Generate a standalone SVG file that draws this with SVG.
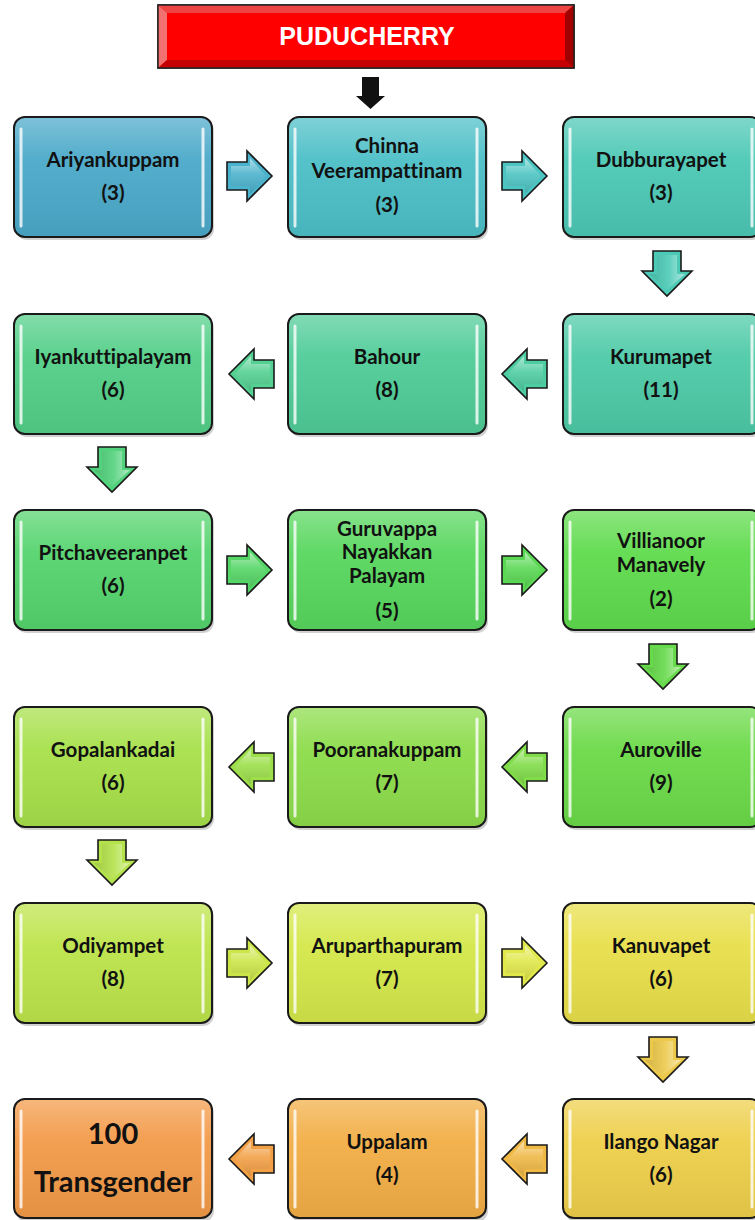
<svg xmlns="http://www.w3.org/2000/svg" xmlns:xlink="http://www.w3.org/1999/xlink" width="755" height="1220" viewBox="0 0 755 1220">
<style>
.box{stroke:#1a1a1a;stroke-width:2}
.shadow{fill:#000;opacity:0.18}
.gloss{fill:url(#boxGloss)}
.hl{stroke:#ffffff;stroke-width:3;stroke-linecap:round;opacity:0.8}
.t{font-family:Lato,"Open Sans","Liberation Sans",sans-serif;font-weight:bold;font-size:20.5px;fill:#111;text-anchor:middle;font-variant-ligatures:none;font-feature-settings:"liga" 0}
.big{font-size:29px}
.arr{stroke:#1a1a1a;stroke-width:1.6;stroke-linejoin:miter}
.agloss{fill:url(#arrGloss);stroke:none}
.title{font-family:"Liberation Sans",Arial,sans-serif;font-weight:bold;font-size:25px;fill:#fff;text-anchor:middle}
</style>
<defs>
<linearGradient id="boxGloss" x1="0" y1="0" x2="0" y2="1">
<stop offset="0" stop-color="#fff" stop-opacity="0.28"/>
<stop offset="0.35" stop-color="#fff" stop-opacity="0.05"/>
<stop offset="1" stop-color="#000" stop-opacity="0.06"/>
</linearGradient>
<linearGradient id="arrGloss" x1="0" y1="0" x2="0" y2="1">
<stop offset="0" stop-color="#fff" stop-opacity="0.55"/>
<stop offset="0.45" stop-color="#fff" stop-opacity="0.1"/>
<stop offset="1" stop-color="#000" stop-opacity="0.12"/>
</linearGradient>
<path id="ra" d="M0,-14 H20 V-25 L45,0 L20,25 V14 H0 Z"/>
<path id="raHi" d="M4,-10 H23 V-18 L39,0 L23,18 V10 H4 Z"/>
</defs>
<rect width="755" height="1220" fill="#ffffff"/>

<g id="header">
<rect x="158" y="5" width="416" height="63" fill="#ff0000" stroke="#222" stroke-width="1.5"/>
<polygon points="158,5 574,5 565,13 167,13" fill="#ee4444"/>
<polygon points="158,5 167,13 167,60 158,68" fill="#f27070"/>
<polygon points="574,5 574,68 565,60 565,13" fill="#a00000"/>
<polygon points="158,68 167,60 565,60 574,68" fill="#c40000"/>
<rect x="158" y="5" width="416" height="63" fill="none" stroke="#222" stroke-width="1.5"/>
<text class="title" x="367" y="45">PUDUCHERRY</text>
</g>

<g id="connectors">
<polygon points="362,77 379,77 379,96 385,96 370.5,109 356,96 362,96" fill="#111"/>
<g transform="translate(227,176)" fill="#4ab2cc"><use href="#ra" class="arr"/><use href="#raHi" class="agloss"/></g>
<g transform="translate(502,176)" fill="#4cc4c2"><use href="#ra" class="arr"/><use href="#raHi" class="agloss"/></g>
<g transform="translate(667,251) rotate(90)" fill="#4ccab6"><use href="#ra" class="arr"/><use href="#raHi" class="agloss"/></g>
<g transform="translate(547,374) scale(-1,1)" fill="#4ecca2"><use href="#ra" class="arr"/><use href="#raHi" class="agloss"/></g>
<g transform="translate(274,374) scale(-1,1)" fill="#54d092"><use href="#ra" class="arr"/><use href="#raHi" class="agloss"/></g>
<g transform="translate(112,447) rotate(90)" fill="#52d27c"><use href="#ra" class="arr"/><use href="#raHi" class="agloss"/></g>
<g transform="translate(227,570)" fill="#55d666"><use href="#ra" class="arr"/><use href="#raHi" class="agloss"/></g>
<g transform="translate(502,570)" fill="#5ad854"><use href="#ra" class="arr"/><use href="#raHi" class="agloss"/></g>
<g transform="translate(663,644) rotate(90)" fill="#66da4a"><use href="#ra" class="arr"/><use href="#raHi" class="agloss"/></g>
<g transform="translate(547,767) scale(-1,1)" fill="#80dc48"><use href="#ra" class="arr"/><use href="#raHi" class="agloss"/></g>
<g transform="translate(274,767) scale(-1,1)" fill="#9cdf4a"><use href="#ra" class="arr"/><use href="#raHi" class="agloss"/></g>
<g transform="translate(112,840) rotate(90)" fill="#b4e24a"><use href="#ra" class="arr"/><use href="#raHi" class="agloss"/></g>
<g transform="translate(227,963)" fill="#cce64a"><use href="#ra" class="arr"/><use href="#raHi" class="agloss"/></g>
<g transform="translate(502,963)" fill="#e0e84a"><use href="#ra" class="arr"/><use href="#raHi" class="agloss"/></g>
<g transform="translate(663,1037) rotate(90)" fill="#ecc94a"><use href="#ra" class="arr"/><use href="#raHi" class="agloss"/></g>
<g transform="translate(547,1159) scale(-1,1)" fill="#f0b845"><use href="#ra" class="arr"/><use href="#raHi" class="agloss"/></g>
<g transform="translate(274,1159) scale(-1,1)" fill="#f2a046"><use href="#ra" class="arr"/><use href="#raHi" class="agloss"/></g>
</g>

<!-- Row 1 -->
<g id="ariyankuppam">
<rect class="shadow" x="16" y="120" width="198" height="120" rx="11"/>
<rect class="box" x="14" y="117" width="198" height="120" rx="11" fill="#4aa9c9"/>
<rect class="gloss" x="15" y="118" width="196" height="118" rx="10"/>
<line class="hl" x1="21" y1="129" x2="21" y2="226"/><line class="hl" x1="203" y1="129" x2="203" y2="226"/>
<text class="t" x="113" y="167">Ariyankuppam</text><text class="t" x="113" y="200">(3)</text>
</g>
<g id="chinna-veerampattinam">
<rect class="shadow" x="290" y="120" width="198" height="120" rx="11"/>
<rect class="box" x="288" y="117" width="198" height="120" rx="11" fill="#4cbfc7"/>
<rect class="gloss" x="289" y="118" width="196" height="118" rx="10"/>
<line class="hl" x1="295" y1="129" x2="295" y2="226"/><line class="hl" x1="477" y1="129" x2="477" y2="226"/>
<text class="t" x="387" y="153">Chinna</text><text class="t" x="387" y="178">Veerampattinam</text><text class="t" x="387" y="212">(3)</text>
</g>
<g id="dubburayapet">
<rect class="shadow" x="565" y="120" width="198" height="120" rx="11"/>
<rect class="box" x="563" y="117" width="198" height="120" rx="11" fill="#4cc8b5"/>
<rect class="gloss" x="564" y="118" width="196" height="118" rx="10"/>
<line class="hl" x1="570" y1="129" x2="570" y2="226"/><line class="hl" x1="752" y1="129" x2="752" y2="226"/>
<text class="t" x="661" y="167">Dubburayapet</text><text class="t" x="661" y="200">(3)</text>
</g>

<!-- Row 2 -->
<g id="kurumapet">
<rect class="shadow" x="565" y="317" width="198" height="120" rx="11"/>
<rect class="box" x="563" y="314" width="198" height="120" rx="11" fill="#4dcaa7"/>
<rect class="gloss" x="564" y="315" width="196" height="118" rx="10"/>
<line class="hl" x1="570" y1="326" x2="570" y2="423"/><line class="hl" x1="752" y1="326" x2="752" y2="423"/>
<text class="t" x="661" y="364">Kurumapet</text><text class="t" x="661" y="397">(11)</text>
</g>
<g id="bahour">
<rect class="shadow" x="290" y="317" width="198" height="120" rx="11"/>
<rect class="box" x="288" y="314" width="198" height="120" rx="11" fill="#50cc98"/>
<rect class="gloss" x="289" y="315" width="196" height="118" rx="10"/>
<line class="hl" x1="295" y1="326" x2="295" y2="423"/><line class="hl" x1="477" y1="326" x2="477" y2="423"/>
<text class="t" x="387" y="364">Bahour</text><text class="t" x="387" y="397">(8)</text>
</g>
<g id="iyankuttipalayam">
<rect class="shadow" x="16" y="317" width="198" height="120" rx="11"/>
<rect class="box" x="14" y="314" width="198" height="120" rx="11" fill="#53cf88"/>
<rect class="gloss" x="15" y="315" width="196" height="118" rx="10"/>
<line class="hl" x1="21" y1="326" x2="21" y2="423"/><line class="hl" x1="203" y1="326" x2="203" y2="423"/>
<text class="t" x="113" y="364">Iyankuttipalayam</text><text class="t" x="113" y="397">(6)</text>
</g>

<!-- Row 3 -->
<g id="pitchaveeranpet">
<rect class="shadow" x="16" y="513" width="198" height="120" rx="11"/>
<rect class="box" x="14" y="510" width="198" height="120" rx="11" fill="#55d46e"/>
<rect class="gloss" x="15" y="511" width="196" height="118" rx="10"/>
<line class="hl" x1="21" y1="522" x2="21" y2="619"/><line class="hl" x1="203" y1="522" x2="203" y2="619"/>
<text class="t" x="113" y="560">Pitchaveeranpet</text><text class="t" x="113" y="593">(6)</text>
</g>
<g id="guruvappa-nayakkan-palayam">
<rect class="shadow" x="290" y="513" width="198" height="120" rx="11"/>
<rect class="box" x="288" y="510" width="198" height="120" rx="11" fill="#58d75e"/>
<rect class="gloss" x="289" y="511" width="196" height="118" rx="10"/>
<line class="hl" x1="295" y1="522" x2="295" y2="619"/><line class="hl" x1="477" y1="522" x2="477" y2="619"/>
<text class="t" x="387" y="536">Guruvappa</text><text class="t" x="387" y="559">Nayakkan</text><text class="t" x="387" y="583">Palayam</text><text class="t" x="387" y="618">(5)</text>
</g>
<g id="villianoor-manavely">
<rect class="shadow" x="565" y="513" width="198" height="120" rx="11"/>
<rect class="box" x="563" y="510" width="198" height="120" rx="11" fill="#5fdb4d"/>
<rect class="gloss" x="564" y="511" width="196" height="118" rx="10"/>
<line class="hl" x1="570" y1="522" x2="570" y2="619"/><line class="hl" x1="752" y1="522" x2="752" y2="619"/>
<text class="t" x="661" y="548">Villianoor</text><text class="t" x="661" y="572">Manavely</text><text class="t" x="661" y="606">(2)</text>
</g>

<!-- Row 4 -->
<g id="auroville">
<rect class="shadow" x="565" y="710" width="198" height="120" rx="11"/>
<rect class="box" x="563" y="707" width="198" height="120" rx="11" fill="#6bda48"/>
<rect class="gloss" x="564" y="708" width="196" height="118" rx="10"/>
<line class="hl" x1="570" y1="719" x2="570" y2="816"/><line class="hl" x1="752" y1="719" x2="752" y2="816"/>
<text class="t" x="661" y="757">Auroville</text><text class="t" x="661" y="790">(9)</text>
</g>
<g id="pooranakuppam">
<rect class="shadow" x="290" y="710" width="198" height="120" rx="11"/>
<rect class="box" x="288" y="707" width="198" height="120" rx="11" fill="#8cdc4a"/>
<rect class="gloss" x="289" y="708" width="196" height="118" rx="10"/>
<line class="hl" x1="295" y1="719" x2="295" y2="816"/><line class="hl" x1="477" y1="719" x2="477" y2="816"/>
<text class="t" x="387" y="757">Pooranakuppam</text><text class="t" x="387" y="790">(7)</text>
</g>
<g id="gopalankadai">
<rect class="shadow" x="16" y="710" width="198" height="120" rx="11"/>
<rect class="box" x="14" y="707" width="198" height="120" rx="11" fill="#a7e04a"/>
<rect class="gloss" x="15" y="708" width="196" height="118" rx="10"/>
<line class="hl" x1="21" y1="719" x2="21" y2="816"/><line class="hl" x1="203" y1="719" x2="203" y2="816"/>
<text class="t" x="113" y="757">Gopalankadai</text><text class="t" x="113" y="790">(6)</text>
</g>

<!-- Row 5 -->
<g id="odiyampet">
<rect class="shadow" x="16" y="906" width="198" height="120" rx="11"/>
<rect class="box" x="14" y="903" width="198" height="120" rx="11" fill="#bde44a"/>
<rect class="gloss" x="15" y="904" width="196" height="118" rx="10"/>
<line class="hl" x1="21" y1="915" x2="21" y2="1012"/><line class="hl" x1="203" y1="915" x2="203" y2="1012"/>
<text class="t" x="113" y="953">Odiyampet</text><text class="t" x="113" y="986">(8)</text>
</g>
<g id="aruparthapuram">
<rect class="shadow" x="290" y="906" width="198" height="120" rx="11"/>
<rect class="box" x="288" y="903" width="198" height="120" rx="11" fill="#d4e84a"/>
<rect class="gloss" x="289" y="904" width="196" height="118" rx="10"/>
<line class="hl" x1="295" y1="915" x2="295" y2="1012"/><line class="hl" x1="477" y1="915" x2="477" y2="1012"/>
<text class="t" x="387" y="953">Aruparthapuram</text><text class="t" x="387" y="986">(7)</text>
</g>
<g id="kanuvapet">
<rect class="shadow" x="565" y="906" width="198" height="120" rx="11"/>
<rect class="box" x="563" y="903" width="198" height="120" rx="11" fill="#e8df4a"/>
<rect class="gloss" x="564" y="904" width="196" height="118" rx="10"/>
<line class="hl" x1="570" y1="915" x2="570" y2="1012"/><line class="hl" x1="752" y1="915" x2="752" y2="1012"/>
<text class="t" x="661" y="953">Kanuvapet</text><text class="t" x="661" y="986">(6)</text>
</g>

<!-- Row 6 -->
<g id="ilango-nagar">
<rect class="shadow" x="565" y="1102" width="198" height="120" rx="11"/>
<rect class="box" x="563" y="1099" width="198" height="119" rx="11" fill="#eecf4a"/>
<rect class="gloss" x="564" y="1100" width="196" height="117" rx="10"/>
<line class="hl" x1="570" y1="1111" x2="570" y2="1207"/><line class="hl" x1="752" y1="1111" x2="752" y2="1207"/>
<text class="t" x="661" y="1149">Ilango Nagar</text><text class="t" x="661" y="1182">(6)</text>
</g>
<g id="uppalam">
<rect class="shadow" x="290" y="1102" width="198" height="120" rx="11"/>
<rect class="box" x="288" y="1099" width="198" height="119" rx="11" fill="#f2ae45"/>
<rect class="gloss" x="289" y="1100" width="196" height="117" rx="10"/>
<line class="hl" x1="295" y1="1111" x2="295" y2="1207"/><line class="hl" x1="477" y1="1111" x2="477" y2="1207"/>
<text class="t" x="387" y="1149">Uppalam</text><text class="t" x="387" y="1182">(4)</text>
</g>
<g id="total-100-transgender">
<rect class="shadow" x="16" y="1102" width="198" height="120" rx="11"/>
<rect class="box" x="14" y="1099" width="198" height="119" rx="11" fill="#f39a48"/>
<rect class="gloss" x="15" y="1100" width="196" height="117" rx="10"/>
<line class="hl" x1="21" y1="1111" x2="21" y2="1207"/><line class="hl" x1="203" y1="1111" x2="203" y2="1207"/>
<text class="t big" x="113" y="1144">100</text><text class="t big" x="113" y="1192">Transgender</text>
</g>
</svg>
